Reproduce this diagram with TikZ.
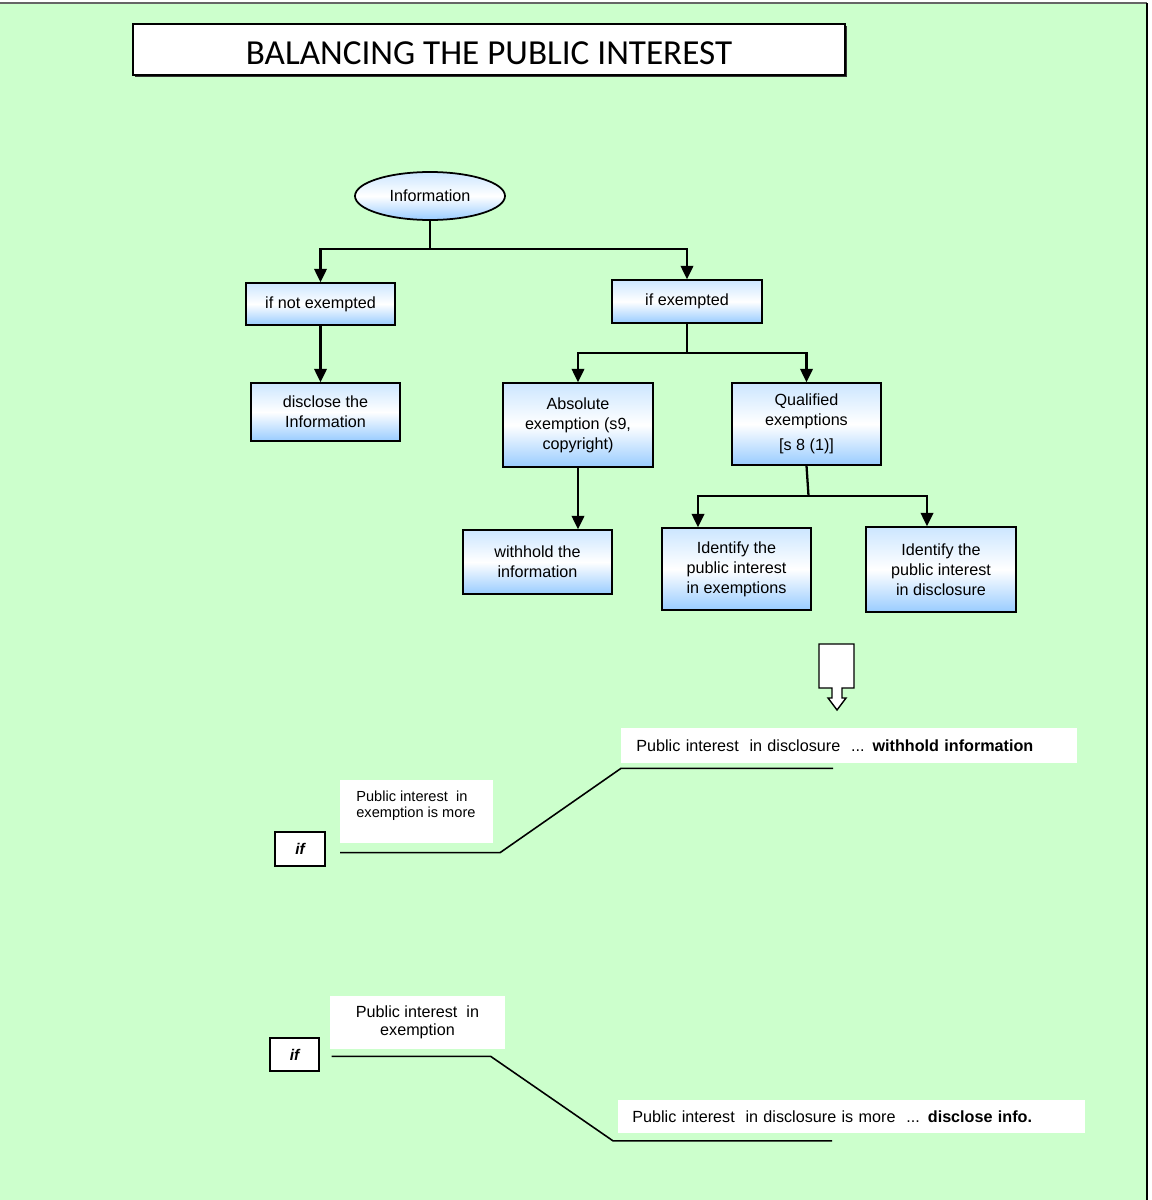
\documentclass[tikz,border=0pt]{standalone}
\usepackage{fontspec}
\setmainfont{Liberation Sans}
\newfontfamily\titlefont{Carlito}
\usetikzlibrary{arrows.meta,shapes.geometric}
\definecolor{pagegreen}{HTML}{CCFFCC}
\definecolor{boxblue}{HTML}{99CCFF}
\definecolor{boxtop}{HTML}{CCE6FF}
\tikzset{
  stepbox/.style={draw, line width=0.8pt, top color=boxtop, bottom color=boxblue, middle color=white,
    align=center, font=\fontsize{9.2}{11.3}\selectfont, minimum width=2.98cm, inner sep=2pt},
  whitebox/.style={fill=white, inner sep=0pt, font=\fontsize{9.2}{10.2}\selectfont},
  ifbox/.style={draw, fill=white, line width=0.9pt, font=\fontsize{8.8}{10}\selectfont\bfseries\itshape},
  conn/.style={line width=1.3pt},
  arr/.style={conn, -{Triangle[length=0.27cm, width=0.25cm]}},
  underline/.style={line width=0.9pt}
}
\begin{document}
\begin{tikzpicture}[x=0.02cm, y=-0.02cm]
\useasboundingbox (0,0) rectangle (1152,1200);
\fill[pagegreen] (0,3) rectangle (1147,1200);
\draw[black!60, line width=0.8pt] (0,3) -- (1147,3);
\draw[black, line width=1.2pt] (1147,3) -- (1147,1200);

\fill[black!80] (135,26) rectangle (846.5,76.5);
\node[draw, fill=white, line width=0.8pt, minimum width=14.24cm, minimum height=1.02cm, text height=0.62cm, text depth=0pt,
  font=\titlefont\fontsize{20}{24}\selectfont] (title) at (489,49.5) {BALANCING THE PUBLIC INTEREST};

% flow chart
\node[stepbox, ellipse, line width=1pt, minimum width=3cm, minimum height=0.96cm, inner sep=0pt] (info) at (430,196) {Information};
\node[stepbox, minimum height=0.84cm] (notex) at (320.5,304) {if not exempted};
\node[stepbox, minimum height=1.16cm] (discl) at (325.5,412) {disclose the\\Information};
\node[stepbox, minimum width=3cm, minimum height=0.86cm] (exem) at (687,301.5) {if exempted};
\node[stepbox, minimum width=3cm, minimum height=1.68cm] (absol) at (578,425) {Absolute\\exemption (s9,\\copyright)};
\node[stepbox, minimum height=1.28cm] (withh) at (537.5,562) {withhold the\\information};
\node[stepbox, minimum height=1.64cm] (qual) at (806.5,424) {Qualified\\exemptions\\[3pt][s 8 (1)]};
\node[stepbox, minimum height=1.64cm] (idex) at (736.5,569) {Identify the\\public interest\\in exemptions};
\node[stepbox, minimum width=3cm, minimum height=1.7cm] (iddis) at (941,569.5) {Identify the\\public interest\\in disclosure};

\draw[conn] (info.south) -- ++(0,28) coordinate (fork1);
\draw[arr] (fork1) -| (notex.north);
\draw[arr] (fork1) -| (exem.north);
\draw[arr] (notex.south) -- (notex.south |- discl.north);
\draw[conn] (exem.south) -- ++(0,29) coordinate (fork2);
\draw[arr] (fork2) -| (absol.north);
\draw[arr] (fork2) -| (qual.north);
\draw[arr] (absol.south) -- (absol.south |- withh.north);
\draw[conn] (qual.south) -- ++(2,30) coordinate (fork3);
\draw[arr] (fork3) -| ([xshift=-0.77cm]idex.north);
\draw[arr] (fork3) -| ([xshift=-0.28cm]iddis.north);

\draw[fill=white, line width=0.8pt] (819,644) -- (854,644) -- (854,688) -- (842,688) -- (842,698) -- (846,698)
  -- (837,710) -- (828,698) -- (832,698) -- (832,688) -- (819,688) -- cycle;

% weighing up
\node[whitebox, anchor=west, minimum width=9.12cm, minimum height=0.7cm, text width=8.52cm, inner xsep=0.3cm,
  align=left] (wtop) at (621,745.5) {Public interest\ \ in disclosure\ \ ... \textbf{withhold information}};
\node[whitebox, anchor=north west, minimum width=3.06cm, minimum height=1.26cm,
  label={[anchor=north west, xshift=0.32cm, yshift=-0.21cm, align=left, inner sep=0pt,
  font=\fontsize{8.3}{9.2}\selectfont]north west:Public interest\ \ in\\exemption is more}] (pimore) at (340,780) {};
\node[ifbox, minimum width=1cm, minimum height=0.68cm] (ifa) at (300,849) {if};
\draw[underline] ([yshift=-0.18cm]pimore.south west) -- ++(160,0) -- ([yshift=-0.1cm]wtop.south west) -- ++(212,0);

\node[whitebox, minimum width=3.5cm, minimum height=1.06cm, align=center] (pbot) at (417.5,1022.5) {Public interest\ \ in\\exemption};
\node[ifbox, minimum width=0.98cm, minimum height=0.66cm] (ifb) at (294.5,1054.5) {if};
\node[whitebox, anchor=west, minimum width=9.34cm, minimum height=0.66cm, text width=8.78cm, inner xsep=0.28cm,
  align=left] (wbot) at (618,1116.5) {Public interest\ \ in disclosure is more\ \ ... \textbf{disclose info.}};
\draw[underline] ([xshift=0.04cm, yshift=-0.14cm]pbot.south west) -- ++(159,0) -- ([xshift=-0.1cm, yshift=-0.15cm]wbot.south west) -- ++(219,0);
\end{tikzpicture}
\end{document}
